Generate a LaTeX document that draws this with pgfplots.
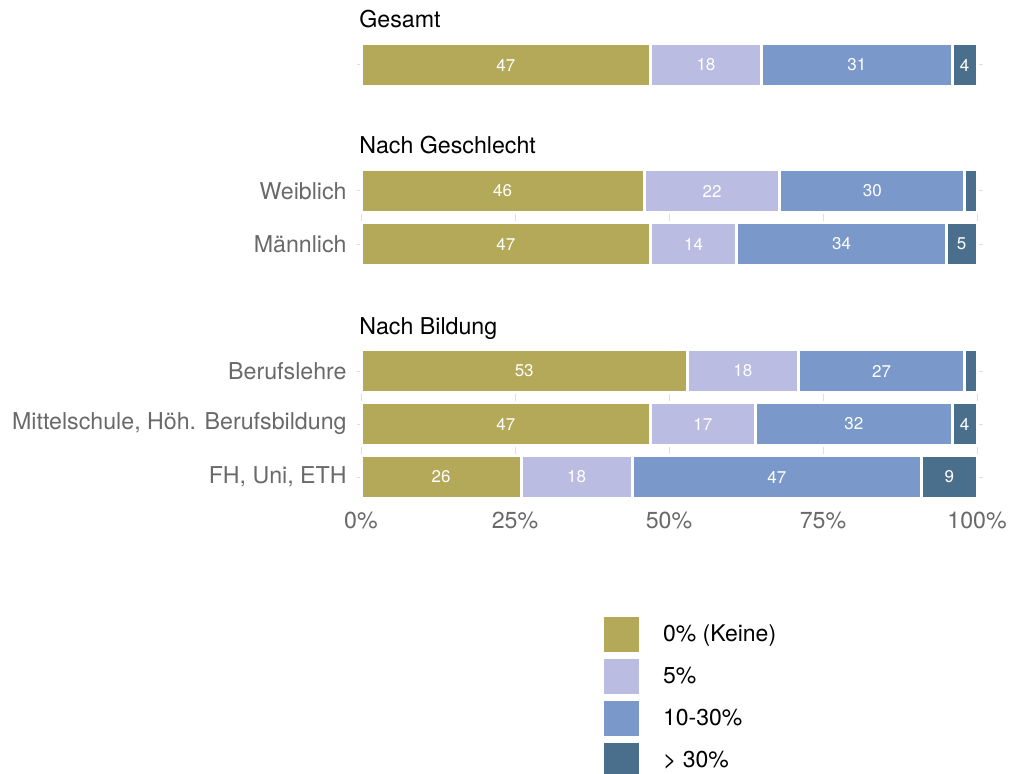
\documentclass[border=0pt]{standalone}
\usepackage{pgfplots}
\pgfplotsset{compat=1.18}
\usepackage{fontspec}
\setmainfont{TeX Gyre Heros}

\definecolor{cKeine}{RGB}{179,169,88}
\definecolor{cFuenf}{RGB}{187,188,225}
\definecolor{cMittel}{RGB}{122,152,201}
\definecolor{cHoch}{RGB}{74,111,141}
\definecolor{txtgrey}{RGB}{105,105,105}
\definecolor{gridgrey}{RGB}{222,222,222}

\pgfplotsset{
  panel/.style={
    xbar stacked, x=3.08pt, y=0.5pt, y dir=reverse,
    xmin=-0.65, xmax=101,
    bar width=43, clip=false,
    axis line style={draw=none}, major tick length=0pt,
    xtick={0,25,50,75,100}, xticklabels={},
    grid=major, grid style={gridgrey, line width=0.5pt},
    yticklabel style={font=\fontsize{11.6}{13}\selectfont, text=txtgrey,
      anchor=east, inner sep=0pt, xshift=-5pt},
    title style={font=\fontsize{11.6}{13}\selectfont, anchor=base west,
      at={(0,1)}, inner sep=0pt, xshift=1pt, yshift=2.5pt},
    visualization depends on=rawx \as \rawx,
    nodes near coords={\ifdim\rawx pt<3pt\relax\else\pgfmathprintnumber[assume math mode=true]{\rawx}\fi},
    every node near coord/.append style={font=\fontsize{8.5}{10}\selectfont,
      text=white, anchor=center, inner sep=0pt},
  },
  seg/.style={fill=#1, draw=white, line width=1.5pt},
}

\begin{document}
\begin{tikzpicture}
\path[use as bounding box] (0,0) rectangle (505pt,-387pt);

% Gesamt
\begin{axis}[panel, at={(178.5pt,-22.5pt)}, anchor=north west,
  ymin=45, ymax=85, ytick={65}, yticklabels={}, title={Gesamt}]
\addplot[seg=cKeine]  coordinates {(47,65)};
\addplot[seg=cFuenf]  coordinates {(18,65)};
\addplot[seg=cMittel] coordinates {(31,65)};
\addplot[seg=cHoch]   coordinates {(4,65)};
\end{axis}

% Nach Geschlecht
\begin{axis}[panel, at={(178.5pt,-85.5pt)}, anchor=north west,
  ymin=171, ymax=264, ytick={191,244}, yticklabels={Weiblich,Männlich},
  title={Nach Geschlecht}]
\addplot[seg=cKeine]  coordinates {(46,191) (47,244)};
\addplot[seg=cFuenf]  coordinates {(22,191) (14,244)};
\addplot[seg=cMittel] coordinates {(30,191) (34,244)};
\addplot[seg=cHoch]   coordinates {(2,191) (5,244)};
\end{axis}

% Nach Bildung
\begin{axis}[panel, at={(178.5pt,-175.5pt)}, anchor=north west,
  ymin=351, ymax=497, ytick={371,424,477},
  yticklabels={Berufslehre,{Mittelschule, Höh. Berufsbildung},{FH, Uni, ETH}},
  title={Nach Bildung},
  xticklabels={0\%,25\%,50\%,75\%,100\%},
  xticklabel style={font=\fontsize{11.6}{13}\selectfont, text=txtgrey,
    anchor=north, inner sep=0pt, yshift=-7.5pt},
  legend image code/.code={\fill[#1, draw=none] (0pt,-8.75pt) rectangle (17.5pt,8.75pt);},
  legend style={draw=none, fill=none, inner sep=0pt, outer sep=0pt,
    at={(0.3946,-0.8219)}, anchor=north west, row sep=3.5pt,
    font=\fontsize{11.5}{13}\selectfont, nodes={inner sep=0pt},
    /tikz/every odd column/.append style={column sep=12pt}},
  legend cell align=left]
\addplot[seg=cKeine]  coordinates {(53,371) (47,424) (26,477)};
\addplot[seg=cFuenf]  coordinates {(18,371) (17,424) (18,477)};
\addplot[seg=cMittel] coordinates {(27,371) (32,424) (47,477)};
\addplot[seg=cHoch]   coordinates {(2,371) (4,424) (9,477)};
\legend{0\% (Keine),5\%,10-30\%,> 30\%}
\end{axis}
\end{tikzpicture}
\end{document}
